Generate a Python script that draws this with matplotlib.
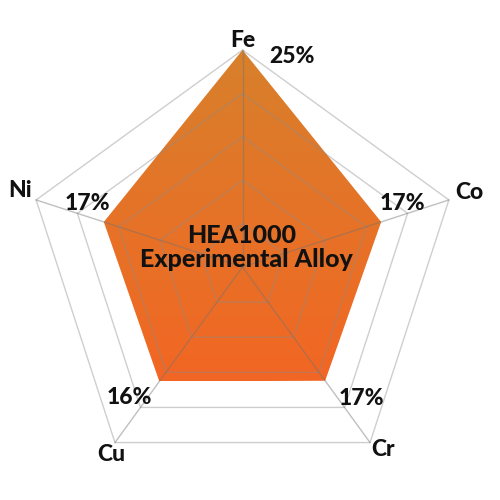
import numpy as np
import matplotlib
matplotlib.use("Agg")
import matplotlib.pyplot as plt
from matplotlib.patches import Polygon
from matplotlib.colors import LinearSegmentedColormap

# ---- data ----
elements = ["Fe", "Co", "Cr", "Cu", "Ni"]
values = [25.0, 16.8, 16.2, 16.3, 16.8]          # plotted radii (% scale)
value_labels = ["25%", "17%", "17%", "16%", "17%"]
ring_levels = [5, 10, 15, 20, 25]
r_max = 25
title_line1 = "HEA1000"
title_line2 = "Experimental Alloy"

# ---- styling ----
FONT = "Lato"
WEIGHT = 900
top_color = "#D8802B"
bottom_color = "#F26624"
ring_color = (0.55, 0.55, 0.55, 0.42)
spoke_color = (0.45, 0.45, 0.45, 0.45)

value_offsets = [(50, -13), (21, 12), (36, -24), (-30, -23), (-16, 12)]
name_offsets = [(0, 3), (20, 1), (13, -13), (-4, -18), (-16, 3)]

fig = plt.figure(figsize=(5, 5), dpi=100)
ax = fig.add_axes([0, 0, 1, 1])
scale = 217 / r_max  # px per unit
cx, cy = 242.5, 267
ax.set_xlim(-cx / scale, (500 - cx) / scale)
ax.set_ylim(-(500 - cy) / scale, cy / scale)
ax.axis("off")

n = len(elements)
angles = np.pi / 2 - np.arange(n) * 2 * np.pi / n

def xy(r, a):
    return r * np.cos(a), r * np.sin(a)

vx, vy = xy(np.array(values), angles)
poly = Polygon(np.column_stack([vx, vy]), closed=True, facecolor="none",
               edgecolor="none", zorder=1)
ax.add_patch(poly)
cmap = LinearSegmentedColormap.from_list("grad", [bottom_color, top_color])
grad = np.linspace(0, 1, 256).reshape(-1, 1)
im = ax.imshow(grad, cmap=cmap, origin="lower", aspect="auto",
               extent=[vx.min(), vx.max(), vy.min(), vy.max()], zorder=1,
               interpolation="bilinear")
im.set_clip_path(poly)
ax.set_xlim(-cx / scale, (500 - cx) / scale)
ax.set_ylim(-(500 - cy) / scale, cy / scale)

for lvl in ring_levels:
    rx, ry = xy(np.full(n + 1, lvl), np.append(angles, angles[0]))
    ax.plot(rx, ry, color=ring_color, lw=1.0, zorder=2)
for a in angles:
    sx, sy = xy(np.array([0, r_max]), np.array([a, a]))
    ax.plot(sx, sy, color=spoke_color, lw=1.0, zorder=2)

txt = dict(ha="center", va="baseline", fontweight=WEIGHT, family=FONT,
           color="#111111", zorder=5, textcoords="offset pixels")
for i in range(n):
    px, py = xy(values[i], angles[i])
    ax.annotate(value_labels[i], (px, py), xytext=value_offsets[i],
                fontsize=16.5, **txt)
    ox, oy = xy(r_max, angles[i])
    ax.annotate(elements[i], (ox, oy), xytext=name_offsets[i],
                fontsize=16.5, **txt)

ax.annotate(title_line1, (0, 0), xytext=(-1, 24), fontsize=18, **txt)
ax.annotate(title_line2, (0, 0), xytext=(4, 0), fontsize=18, **txt)

fig.savefig("out.png", dpi=100, facecolor="white")
